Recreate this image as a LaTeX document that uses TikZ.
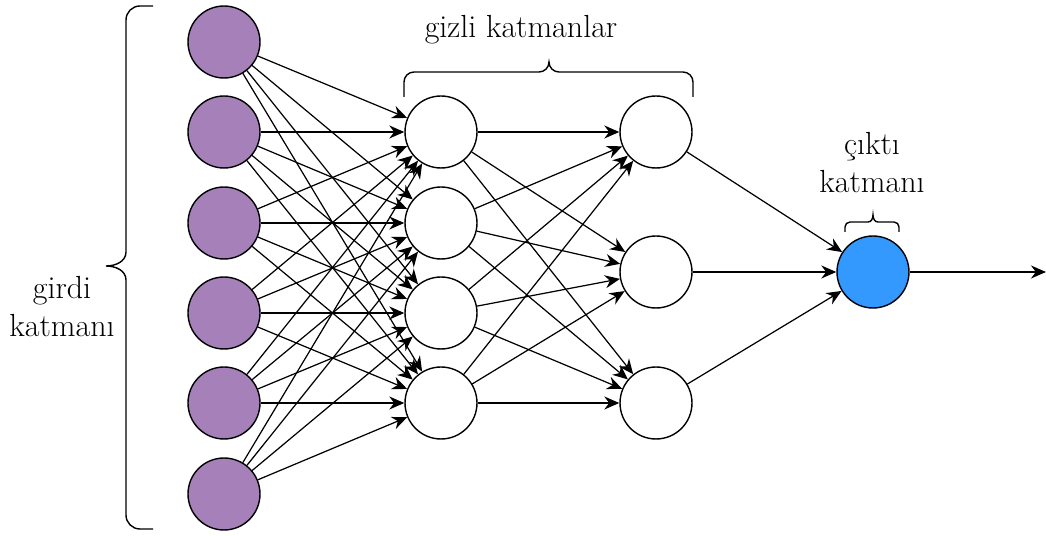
\documentclass[tikz,border=0pt]{standalone}
\usepackage{fontspec}
\usetikzlibrary{arrows.meta}
\definecolor{inpurple}{HTML}{A680B8}
\definecolor{outblue}{HTML}{3399FF}

\begin{document}
\begin{tikzpicture}[
  x=0.02cm, y=-0.02cm,
  >={Stealth[length=3mm, width=2.6mm]},
  neuron/.style={
    circle, draw=black, line width=0.8pt, fill=#1,
    minimum size=1.44cm, inner sep=0pt
  },
  arr/.style={->, line width=0.7pt, black},
  brc/.style={line width=0.8pt, black},
  lbl/.style={font=\fontsize{18.2}{21.6}\selectfont, text=black, align=center},
]

\useasboundingbox (0,0) rectangle (1046,536);

% =============================================
% Input layer
% =============================================
\node[neuron=inpurple] (in-1) at (224,42) {};
\node[neuron=inpurple] (in-2) at (224,132) {};
\node[neuron=inpurple] (in-3) at (224,223) {};
\node[neuron=inpurple] (in-4) at (224,313) {};
\node[neuron=inpurple] (in-5) at (224,403) {};
\node[neuron=inpurple] (in-6) at (224,494) {};

% =============================================
% Hidden layers
% =============================================
\node[neuron=white] (h1-1) at (441,132) {};
\node[neuron=white] (h1-2) at (441,223) {};
\node[neuron=white] (h1-3) at (441,313) {};
\node[neuron=white] (h1-4) at (441,403) {};

\node[neuron=white] (h2-1) at (656,132) {};
\node[neuron=white] (h2-2) at (656,272) {};
\node[neuron=white] (h2-3) at (656,403) {};

% =============================================
% Output layer
% =============================================
\node[neuron=outblue] (out) at (873,272) {};
\coordinate (out-end) at (1046,272);

% Arrows
\foreach \i in {1,...,6}
  \foreach \j in {1,...,4}
    \draw[arr] (in-\i) -- (h1-\j);
\foreach \i in {1,...,4}
  \foreach \j in {1,...,3}
    \draw[arr] (h1-\i) -- (h2-\j);
\foreach \j in {1,...,3}
  \draw[arr] (h2-\j) -- (out);
\draw[arr] (out) -- (out-end);

% =============================================
% Braces and labels
% =============================================
% input brace
\draw[brc] (153,6) -- (140,6) to[out=180,in=90] (126,20) -- (126,252)
  to[out=-90,in=0] (106,266) to[out=0,in=90] (126,280) -- (126,515)
  to[out=-90,in=180] (140,529) -- (153,529);
\node[lbl] (in-lbl) at (62,307) {girdi\\katmanı};

% hidden brace
\draw[brc] (404,97) -- (404,82) to[out=90,in=180] (414,72) -- (539,72)
  to[out=0,in=-90] (549,62) to[out=-90,in=180] (559,72) -- (683,72)
  to[out=0,in=90] (693,82) -- (693,97);
\node[lbl] (h-lbl) at (521,30) {gizli katmanlar};

% output brace
\draw[brc] (845,232) -- (845,227) to[out=90,in=180] (850,222) -- (868,222)
  to[out=0,in=-90] (873,215) to[out=-90,in=180] (878,222) -- (894,222)
  to[out=0,in=90] (899,227) -- (899,232);
\node[lbl] (out-lbl) at (872,163) {çıktı\\katmanı};

\end{tikzpicture}
\end{document}
